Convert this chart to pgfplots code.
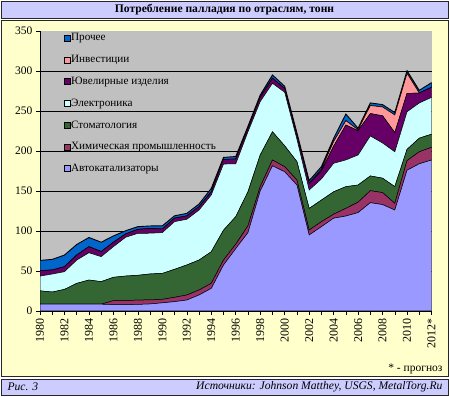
\documentclass[border=0pt]{standalone}
\usepackage{pgfplots}
\pgfplotsset{compat=1.18}
\usepackage{pgfplotstable}
\usepackage{fontspec}
\setmainfont{Liberation Serif}
\definecolor{cauto}{HTML}{9999FF}
\definecolor{cchem}{HTML}{993366}
\definecolor{cdent}{HTML}{336633}
\definecolor{celec}{HTML}{CCFFFF}
\definecolor{cjew}{HTML}{660066}
\definecolor{cinv}{HTML}{FF9999}
\definecolor{coth}{HTML}{0066CC}
\definecolor{cpanel}{HTML}{FFFFCC}
\definecolor{cbar}{HTML}{CCCCFF}
\definecolor{cplot}{HTML}{C0C0C0}
\pgfplotstableread{
year auto chem dent elec jew inv oth
1980 8.5 0 16.7 18.4 6.7 0 12.9
1981 8.5 0 15.2 22.5 5.0 0 13.3
1982 8.5 0 18.5 22.1 6.2 0 14.6
1983 8.5 0 26.0 29.1 6.2 0 13.3
1984 8.5 0 30.2 34.1 7.5 0 11.6
1985 8.5 0 28.2 31.2 6.3 0 11.8
1986 8.0 4.9 29.2 38.3 5.4 0 8.0
1987 8.0 4.9 30.8 48.4 4.2 0 4.0
1988 8.2 5.5 30.9 52.5 4.9 0 3.4
1989 8.8 5.0 32.5 50.9 5.9 0 3.2
1990 10.2 4.4 32.4 51.0 4.5 0 4.0
1991 11.7 5.4 35.0 59.6 4.3 0 3.0
1992 13.7 6.3 37.5 57.1 4.2 0 3.2
1993 20.0 6.2 37.5 62.5 4.2 0 3.3
1994 28.3 6.3 39.4 71.0 4.0 0 4.3
1995 57.5 6.2 37.3 82.7 5.9 0 2.4
1996 78.0 5.5 34.4 66.0 5.9 0 3.3
1997 98.0 8.5 42.5 75.0 4.0 0 3.0
1998 150.0 5.4 39.6 66.7 5.3 0 3.0
1999 181.5 7.2 35.3 60.6 6.4 0 4.0
2000 174.0 6.4 26.0 67.0 4.5 0 3.0
2001 157.5 6.2 23.0 28.0 5.0 0 3.0
2002 95.0 6.2 27.0 23.0 8.4 0 3.3
2003 105.4 6.2 27.0 26.4 10.0 2.0 3.4
2004 116.0 5.0 28.0 35.6 21.4 5.7 4.0
2005 118.7 9.6 27.1 33.4 43.7 5.4 8.3
2006 123.0 13.0 21.5 37.5 30.4 1.0 2.0
2007 135.4 15.0 18.4 50.0 28.0 10.0 3.3
2008 133.0 15.0 18.0 44.0 34.0 11.0 3.0
2009 126.2 8.4 20.8 43.6 24.0 22.0 3.0
2010 176.0 12.0 14.0 47.0 23.0 25.0 3.4
2011 184.0 15.0 17.0 44.0 12.4 0.0 3.4
2012 188.7 15.9 16.4 46.0 12.6 0.0 5.8
}\datatable
\begin{document}
\begin{tikzpicture}
\useasboundingbox (0pt,0pt) rectangle (449pt,396pt);
% frames
\draw[fill=cbar,draw=black!85,line width=0.8pt] (1pt,378pt) rectangle (448pt,395pt);
\draw[fill=cpanel,draw=black!85,line width=0.8pt] (1pt,20pt) rectangle (448pt,376pt);
\draw[fill=cbar,draw=black!85,line width=0.8pt] (1pt,1pt) rectangle (448pt,17pt);
\node[font=\fontsize{11.6}{13}\selectfont\bfseries] at (224.5pt,386.5pt) {Потребление палладия по отраслям, тонн};
\node[font=\fontsize{11.6}{13}\selectfont\itshape,anchor=west] at (4pt,9pt) {Рис. 3};
\node[font=\fontsize{11.6}{13}\selectfont\itshape,anchor=east] at (446pt,9pt) {Источники: Johnson Matthey, USGS, MetalTorg.Ru};
\node[font=\fontsize{11.5}{13}\selectfont,anchor=east] at (446pt,27pt) {* - прогноз};
\begin{axis}[
  at={(40pt,85pt)}, anchor=south west,
  scale only axis, width=391.5pt, height=280pt,
  xmin=1980, xmax=2012, ymin=0, ymax=350,
  axis background/.style={fill=cplot},
  axis lines=left, axis line style={-, black, line width=0.8pt},
  ytick={0,50,...,300},
  extra y ticks={350},
  extra y tick style={grid=none},
  xtick={1980,1982,...,2012},
  minor xtick={1981,1983,...,2011},
  xticklabels={1980,1982,1984,1986,1988,1990,1992,1994,1996,1998,2000,2002,2004,2006,2008,2010,2012*},
  xticklabel style={rotate=90, anchor=east, font=\fontsize{12}{13}\selectfont},
  yticklabel style={font=\fontsize{11.5}{13}\selectfont},
  /pgf/number format/assume math mode=true,
  /pgf/number format/1000 sep={},
  tick align=outside, major tick length=4pt, minor tick length=4pt,
  tick style={black, line width=0.6pt},
  ymajorgrids, grid style={black, line width=0.7pt},
  stack plots=y,
  area legend,
  reverse legend,
  legend cell align=left,
  legend image code/.code={\draw[#1,draw=black,line width=0.4pt] (0pt,-3pt) rectangle (6pt,3pt);},
  legend style={draw=none, fill=none, at={(rel axis cs:0.06,0.995)}, anchor=north west,
     font=\fontsize{11.2}{13}\selectfont, row sep=10.9pt, inner sep=0pt,
     nodes={inner sep=1pt}},
  every axis plot/.append style={draw=black, line width=0.5pt},
]
\addplot[fill=cauto] table[x=year,y=auto]{\datatable} \closedcycle;
\addlegendentry{Автокатализаторы}
\addplot[fill=cchem] table[x=year,y=chem]{\datatable} \closedcycle;
\addlegendentry{Химическая промышленность}
\addplot[fill=cdent] table[x=year,y=dent]{\datatable} \closedcycle;
\addlegendentry{Стоматология}
\addplot[fill=celec] table[x=year,y=elec]{\datatable} \closedcycle;
\addlegendentry{Электроника}
\addplot[fill=cjew] table[x=year,y=jew]{\datatable} \closedcycle;
\addlegendentry{Ювелирные изделия}
\addplot[fill=cinv] table[x=year,y=inv]{\datatable} \closedcycle;
\addlegendentry{Инвестиции}
\addplot[fill=coth, line width=0.9pt] table[x=year,y=oth]{\datatable} \closedcycle;
\addlegendentry{Прочее}
\end{axis}
\end{tikzpicture}
\end{document}
